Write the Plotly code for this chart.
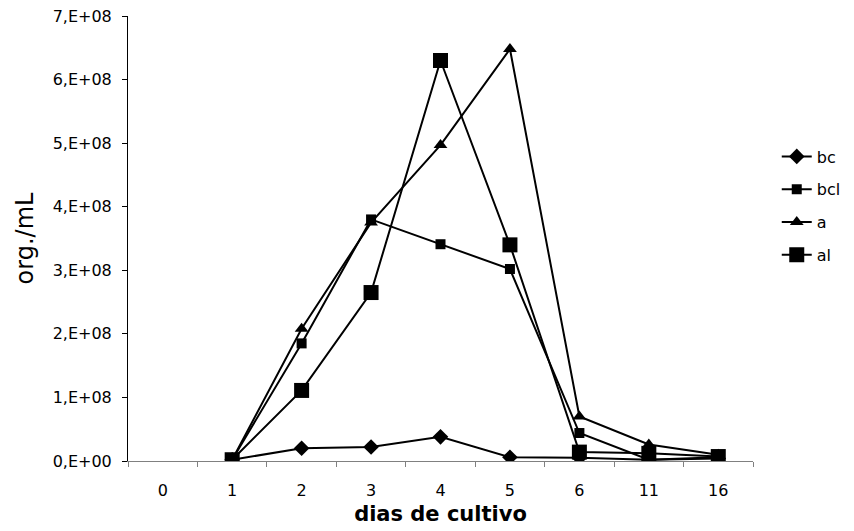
import plotly.graph_objects as go

days = ["0", "1", "2", "3", "4", "5", "6", "11", "16"]
bc = [None, 0.02e8, 0.20e8, 0.22e8, 0.38e8, 0.06e8, 0.05e8, 0.02e8, 0.04e8]
bcl = [None, 0.02e8, 1.85e8, 3.80e8, 3.41e8, 3.02e8, 0.44e8, 0.02e8, 0.06e8]
a = [None, 0.02e8, 2.08e8, 3.75e8, 4.97e8, 6.48e8, 0.70e8, 0.26e8, 0.10e8]
al = [None, 0.02e8, 1.11e8, 2.65e8, 6.30e8, 3.40e8, 0.14e8, 0.12e8, 0.07e8]

ytick_vals = [0, 1e8, 2e8, 3e8, 4e8, 5e8, 6e8, 7e8]
ytick_text = ["0,E+00", "1,E+08", "2,E+08", "3,E+08", "4,E+08", "5,E+08", "6,E+08", "7,E+08"]

series = [
    ("bc", bc, "diamond", 12),
    ("bcl", bcl, "square", 10),
    ("a", a, "triangle-up", 12),
    ("al", al, "square", 15),
]

fig = go.Figure()
for name, vals, sym, size in series:
    fig.add_trace(go.Scatter(
        x=days, y=vals, name=name, mode="lines+markers", legendgroup=name,
        line=dict(color="black", width=2),
        marker=dict(symbol=sym, size=size, color="black"),
        connectgaps=False,
    ))

font_family = "DejaVu Sans, Verdana, sans-serif"
fig.update_layout(
    width=854, height=531,
    margin=dict(l=128, r=101, t=16, b=70, autoexpand=False),
    paper_bgcolor="white", plot_bgcolor="white",
    font=dict(family=font_family, size=16, color="black"),
    showlegend=True,
    legend=dict(x=1.038, xanchor="left", y=0.573, yanchor="middle",
                font=dict(size=16), traceorder="grouped", tracegroupgap=9,
                itemwidth=30, bgcolor="rgba(0,0,0,0)"),
    xaxis=dict(
        type="category", categoryorder="array", categoryarray=days,
        range=[-0.5, 8.5], showgrid=False, zeroline=False, automargin=False,
        showline=True, linecolor="#808080", linewidth=1,
        ticks="outside", ticklen=5, tickcolor="#808080", tickson="boundaries",
        ticklabelstandoff=15,
        title=dict(text="<b>dias de cultivo</b>", font=dict(size=21), standoff=7),
    ),
    yaxis=dict(
        range=[0, 7e8], tickvals=ytick_vals, ticktext=ytick_text,
        showgrid=False, zeroline=False, automargin=False,
        showline=True, linecolor="black", linewidth=1,
        ticks="outside", ticklen=5, tickcolor="black",
        ticklabelstandoff=7,
        title=dict(text="org./mL", font=dict(size=24), standoff=12),
    ),
)

fig.write_html("out.html", config={"displayModeBar": False},
               post_script="document.body.style.margin='0';")
